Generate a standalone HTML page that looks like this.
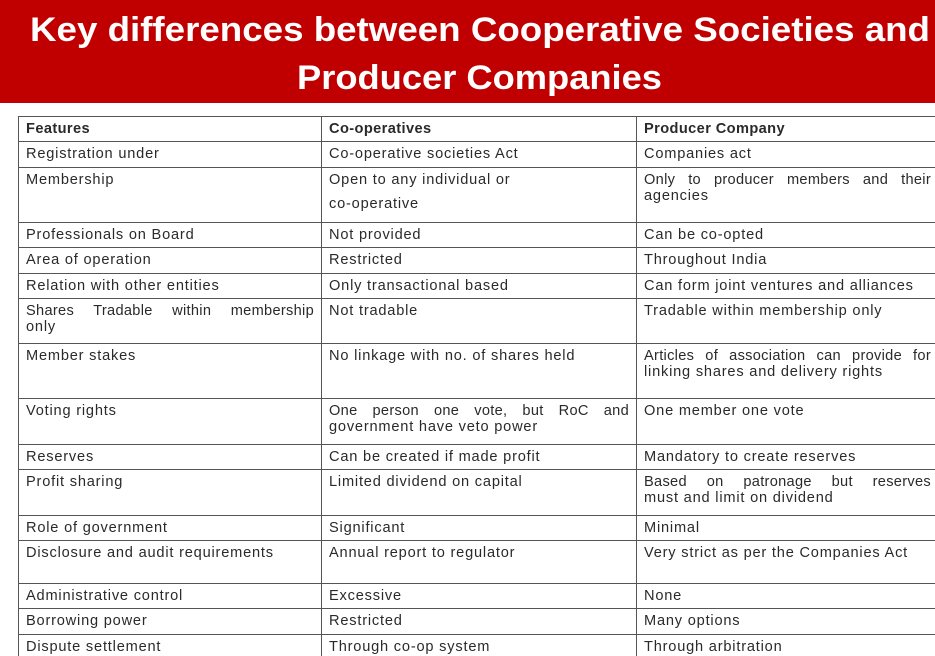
<!DOCTYPE html>
<html><head><meta charset="utf-8"><style>
body{margin:0;width:935px;height:656px;overflow:hidden;background:#fff;position:relative;font-family:"Liberation Sans",sans-serif}
#hdr{position:absolute;left:0;top:0;width:935px;height:103px;background:#c00000}
.c{position:absolute;font-size:14.6px;letter-spacing:0.8px;line-height:16.5px;color:#2a2a2a;padding-top:4.5px;box-sizing:border-box;white-space:nowrap}
.c div{overflow:hidden}
.jl{text-align:justify;text-align-last:justify;letter-spacing:0.3px}
.b{font-weight:bold;letter-spacing:0.4px}
.h{position:absolute;background:#555;height:1px}
.v{position:absolute;background:#555;width:1px}
</style></head><body>
<div id="hdr">
<svg width="935" height="103" style="position:absolute;left:0;top:0">
<text x="30" y="41" textLength="900" lengthAdjust="spacingAndGlyphs" font-family="Liberation Sans, sans-serif" font-weight="bold" font-size="34" fill="#fff">Key differences between Cooperative Societies and</text>
<text x="297" y="89" textLength="365" lengthAdjust="spacingAndGlyphs" font-family="Liberation Sans, sans-serif" font-weight="bold" font-size="34" fill="#fff">Producer Companies</text>
</svg></div>
<div id="tbl"></div>
<script>
// "|" separates lines; leading "*" marks a justified line
const rows=[
[116,"Features","Co-operatives","Producer Company"],
[141,"Registration under","Co-operative societies Act","Companies act"],
[167,"Membership","Open to any individual or|~co-operative","*Only to producer members and their|agencies"],
[222,"Professionals on Board","Not provided","Can be co-opted"],
[247,"Area of operation","Restricted","Throughout India"],
[273,"Relation with other entities","Only transactional based","Can form joint ventures and alliances"],
[298,"*Shares Tradable within membership|only","Not tradable","Tradable within membership only"],
[343,"Member stakes","No linkage with no. of shares held","*Articles of association can provide for|linking shares and delivery rights"],
[398,"Voting rights","*One person one vote, but RoC and|government have veto power","One member one vote"],
[444,"Reserves","Can be created if made profit","Mandatory to create reserves"],
[469,"Profit sharing","Limited dividend on capital","*Based on patronage but reserves|must and limit on dividend"],
[515,"Role of government","Significant","Minimal"],
[540,"Disclosure and audit requirements","Annual report to regulator","Very strict as per the Companies Act"],
[583,"Administrative control","Excessive","None"],
[608,"Borrowing power","Restricted","Many options"],
[634,"Dispute settlement","Through co-op system","Through arbitration"]];
const t=document.getElementById('tbl');
const xs=[26,329,644], ws=[288,300,287];
rows.forEach((r,i)=>{
  const l=document.createElement('div');l.className='h';
  l.style.cssText=`left:18px;top:${r[0]}px;width:930px`;
  
  
  t.appendChild(l);
  for(let k=0;k<3;k++){
    const d=document.createElement('div');
    d.className='c'+(i===0?' b':'');
    d.style.left=xs[k]+'px';d.style.top=r[0]+'px';d.style.width=ws[k]+'px';
    r[k+1].split('|').forEach(s=>{
      const ln=document.createElement('div');
      if(s[0]==='*'){ln.className='jl';s=s.slice(1);}
      if(s[0]==='~'){ln.style.marginTop='8px';s=s.slice(1);}
      ln.textContent=s;
      d.appendChild(ln);
    });
    
    
    t.appendChild(d);
  }
});
[18,321,636].forEach(x=>{
  const v=document.createElement('div');v.className='v';
  v.style.cssText=`left:${x}px;top:116px;height:540px`;
  
  
  t.appendChild(v);
});
</script>
</body></html>
